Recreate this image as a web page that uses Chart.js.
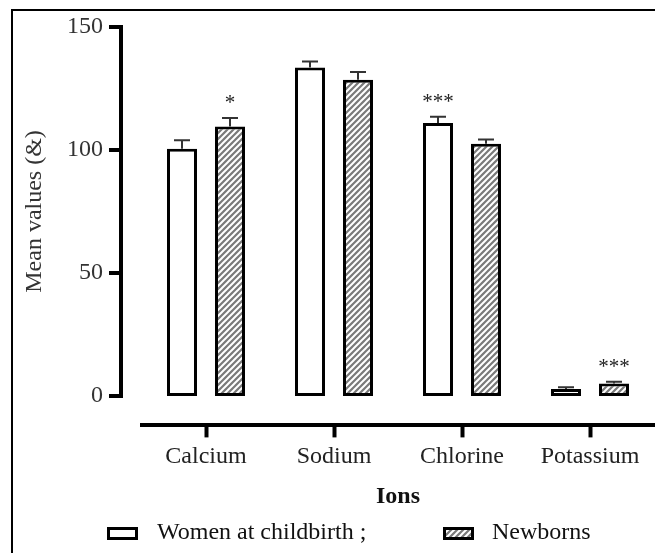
<!DOCTYPE html>
<html>
<head>
<meta charset="utf-8">
<script src="https://cdn.jsdelivr.net/npm/chart.js@4"></script>
<style>
  html, body { margin: 0; padding: 0; background: #fff; }
  .wrap { position: relative; width: 655px; height: 553px; overflow: hidden; }
  .frame { position: absolute; left: 11px; top: 9px; right: -10px; bottom: -10px;
           border-left: 2px solid #000; border-top: 2px solid #000; pointer-events: none; }
</style>
</head>
<body>
<div class="wrap">
  <canvas id="ionsChart" width="655" height="553"></canvas>
  <div class="frame"></div>
</div>
<script>
const categories = ['Calcium', 'Sodium', 'Chlorine', 'Potassium'];
const womenValues = [100.5, 133.5, 111, 2.8];
const womenErrors = [3.5, 2.5, 2.5, 0.7];
const newbornValues = [109.5, 128.5, 102.5, 5];
const newbornErrors = [3.5, 3.2, 1.8, 0.7];
const womenStars = ['', '', '***', ''];
const newbornStars = ['*', '', '', '***'];
const yTicks = [0, 50, 100, 150];
const yTitle = 'Mean values (&)';

const SERIF = '"Liberation Serif", "Times New Roman", serif';

//diagonal hatch used for the newborn bars
function makeHatch(){
  const c = document.createElement('canvas');
  c.width = 6; c.height = 6;
  const g = c.getContext('2d');
  g.fillStyle = '#7a7a7a';
  g.fillRect(0, 0, 6, 6);
  g.strokeStyle = '#ffffff';
  g.lineWidth = 2;
  g.beginPath();
  g.moveTo(-1, 7); g.lineTo(7, -1);
  g.moveTo(-4, 4); g.lineTo(4, -4);
  g.moveTo(2, 10); g.lineTo(10, 2);
  g.stroke();
  return g.createPattern(c, 'repeat');
}
const hatch = makeHatch();

const AXIS_GAP = 21;   //y axis sits left of the plot area
const TICK_LEN = 12;

//y axis line + tick marks + title, drawn detached from the plot
const yAxisPlugin = {
  id: 'yAxisLine',
  afterDraw(chart){
    const y = chart.scales.y;
    const x0 = chart.chartArea.left - AXIS_GAP;
    const yTop = y.getPixelForValue(yTicks[yTicks.length - 1]);
    const yBottom = y.getPixelForValue(0);
    const c = chart.ctx;
    c.save();
    c.strokeStyle = '#000';
    c.lineWidth = 4;
    c.lineCap = 'butt';
    c.beginPath();
    c.moveTo(x0, yTop - 2);
    c.lineTo(x0, yBottom + 2);
    yTicks.forEach(v => {
      const py = y.getPixelForValue(v);
      c.moveTo(x0 - TICK_LEN, py);
      c.lineTo(x0, py);
    });
    c.stroke();

    //axis title centred on the drawn axis line
    c.translate(35, (yTop + yBottom) / 2);
    c.rotate(-Math.PI / 2);
    c.fillStyle = '#333';
    c.font = '24px ' + SERIF;
    c.textAlign = 'center';
    c.textBaseline = 'middle';
    c.fillText(yTitle, 0, 0);
    c.restore();
  }
};

//error bars (upper half only) and significance stars
const errorPlugin = {
  id: 'errorBars',
  afterDatasetsDraw(chart){
    const c = chart.ctx;
    const y = chart.scales.y;
    c.save();
    chart.data.datasets.forEach((ds, di) => {
      const meta = chart.getDatasetMeta(di);
      meta.data.forEach((bar, i) => {
        const top = y.getPixelForValue(ds.data[i]);
        const errTop = y.getPixelForValue(ds.data[i] + ds.errors[i]);
        c.strokeStyle = '#333';
        c.lineWidth = 2;
        c.beginPath();
        c.moveTo(bar.x, top);
        c.lineTo(bar.x, errTop);
        c.moveTo(bar.x - 8, errTop);
        c.lineTo(bar.x + 8, errTop);
        c.stroke();
        if (ds.stars[i]){
          c.fillStyle = '#222';
          c.font = '21px ' + SERIF;
          c.textAlign = 'center';
          c.textBaseline = 'bottom';
          c.fillText(ds.stars[i], bar.x, errTop - 4);
        }
      });
    });
    c.restore();
  }
};

//legend row under the axis title
const legendPlugin = {
  id: 'customLegend',
  afterDraw(chart){
    const c = chart.ctx;
    const items = [
      {ds: chart.data.datasets[0], box: 107, text: 157},
      {ds: chart.data.datasets[1], box: 443, text: 492}
    ];
    const cy = 533;
    c.save();
    items.forEach(it => {
      c.fillStyle = it.ds.backgroundColor;
      c.fillRect(it.box, cy - 6, 31, 13);
      c.strokeStyle = '#000';
      c.lineWidth = 3;
      c.strokeRect(it.box + 1.5, cy - 4.5, 28, 10);
      c.fillStyle = '#111';
      c.font = '24px ' + SERIF;
      c.textAlign = 'left';
      c.textBaseline = 'middle';
      c.fillText(it.ds.label, it.text, cy);
    });
    c.restore();
  }
};

const ctx = document.getElementById('ionsChart').getContext('2d');

const config = {
  type: 'bar',
  data: {
    labels: categories,
    datasets: [
      {
        label: 'Women at childbirth ;',
        data: womenValues,
        errors: womenErrors,
        stars: womenStars,
        backgroundColor: '#ffffff',
        borderColor: '#000',
        borderWidth: 3,
        borderSkipped: false
      },
      {
        label: 'Newborns',
        data: newbornValues,
        errors: newbornErrors,
        stars: newbornStars,
        backgroundColor: hatch,
        borderColor: '#000',
        borderWidth: 3,
        borderSkipped: false
      }
    ]
  },
  options: {
    responsive: false,
    animation: false,
    categoryPercentage: 0.75,
    barPercentage: 0.625,
    layout: {
      padding: {top: 27, left: 0, right: 1, bottom: 42}
    },
    plugins: {
      legend: {display: false},
      tooltip: {enabled: false}
    },
    scales: {
      x: {
        grid: {
          display: true,
          drawOnChartArea: false,
          offset: false,
          tickLength: 12,
          tickWidth: 4,
          tickColor: '#000'
        },
        border: {display: true, color: '#000', width: 4},
        ticks: {
          color: '#222',
          padding: 5,
          font: {family: SERIF, size: 24}
        },
        title: {
          display: true,
          text: 'Ions',
          color: '#111',
          padding: {top: 6, bottom: 0},
          font: {family: SERIF, size: 24, weight: 'bold'}
        }
      },
      y: {
        min: -12,
        max: 150,
        afterBuildTicks: axis => {
          axis.ticks = yTicks.map(v => ({value: v}));
        },
        afterFit: axis => { axis.width = 142; },
        grid: {display: false, drawTicks: true, tickLength: 35},
        border: {display: false},
        ticks: {
          color: '#333',
          padding: 4,
          font: {family: SERIF, size: 24}
        },
        title: {display: false}
      }
    }
  },
  plugins: [yAxisPlugin, errorPlugin, legendPlugin]
};

const chart = new Chart(ctx, config);
</script>
</body>
</html>
